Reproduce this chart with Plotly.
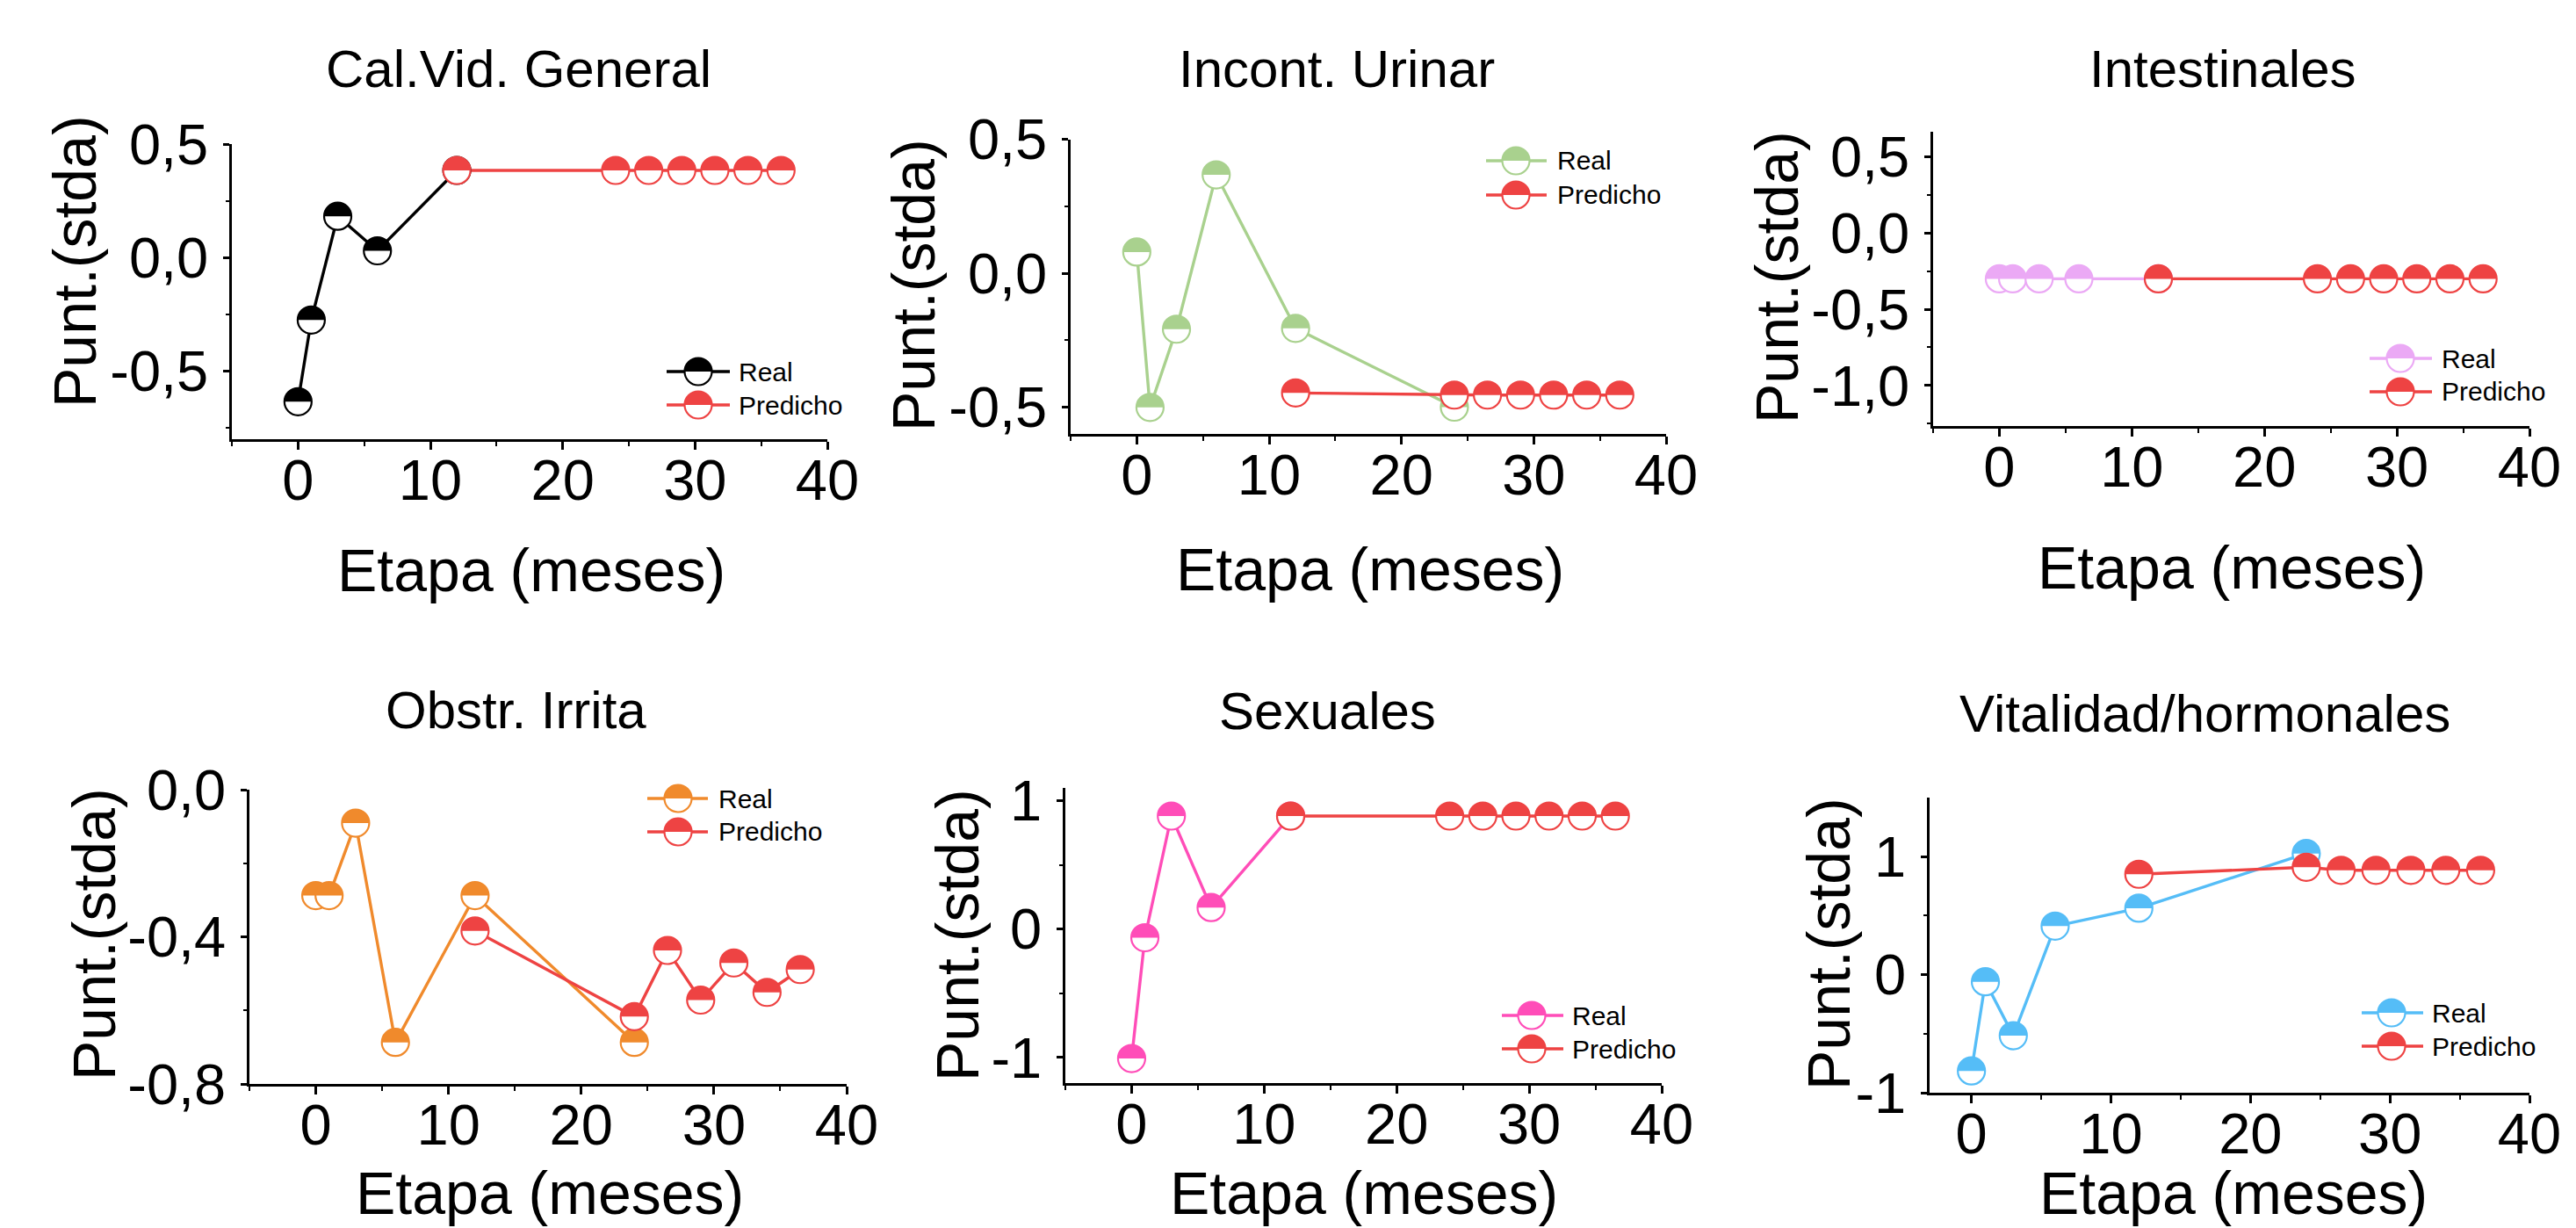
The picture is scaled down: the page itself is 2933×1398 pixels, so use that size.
import plotly.graph_objects as go

W, H = 2933, 1398
FONT = "Liberation Sans, Arial, Helvetica, sans-serif"

# ---------------- data ----------------
titles = ["Cal.Vid. General", "Incont. Urinar", "Intestinales",
          "Obstr. Irrita", "Sexuales", "Vitalidad/hormonales"]
x_title = "Etapa (meses)"
y_title = "Punt.(stda)"
legend_labels = ["Real", "Predicho"]

pred_x = [12, 24, 26.5, 29, 31.5, 34, 36.5]

cal_real_x = [0, 1, 3, 6, 12]
cal_real_y = [-0.635, -0.275, 0.182, 0.030, 0.384]
cal_pred_y = [0.384, 0.384, 0.384, 0.384, 0.384, 0.384, 0.384]

uri_real_x = [0, 1, 3, 6, 12, 24]
uri_real_y = [0.079, -0.501, -0.209, 0.367, -0.206, -0.500]
uri_pred_y = [-0.447, -0.455, -0.455, -0.455, -0.455, -0.455, -0.455]

int_real_x = [0, 1, 3, 6, 12]
int_real_y = [-0.30, -0.30, -0.30, -0.30, -0.30]
int_pred_y = [-0.30, -0.30, -0.30, -0.30, -0.30, -0.30, -0.30]

obs_real_x = [0, 1, 3, 6, 12, 24]
obs_real_y = [-0.288, -0.288, -0.091, -0.687, -0.288, -0.687]
obs_pred_y = [-0.384, -0.617, -0.437, -0.572, -0.471, -0.551, -0.489]

sex_real_x = [0, 1, 3, 6, 12]
sex_real_y = [-1.009, -0.067, 0.881, 0.168, 0.881]
sex_pred_y = [0.881, 0.881, 0.881, 0.881, 0.881, 0.881, 0.881]

vit_real_x = [0, 1, 3, 6, 12, 24]
vit_real_y = [-0.815, -0.060, -0.517, 0.411, 0.563, 1.026]
vit_pred_y = [0.851, 0.910, 0.884, 0.884, 0.884, 0.884, 0.884]

x_tickvals = [0, 10, 20, 30, 40]
x_ticktext = ["0", "10", "20", "30", "40"]

y_tickvals = [
    [-0.5, 0.0, 0.5],
    [-0.5, 0.0, 0.5],
    [-1.0, -0.5, 0.0, 0.5],
    [-0.8, -0.4, 0.0],
    [-1, 0, 1],
    [-1, 0, 1],
]
y_ticktext = [
    ["-0,5", "0,0", "0,5"],
    ["-0,5", "0,0", "0,5"],
    ["-1,0", "-0,5", "0,0", "0,5"],
    ["-0,8", "-0,4", "0,0"],
    ["-1", "0", "1"],
    ["-1", "0", "1"],
]

real_colors = ["#000000", "#A9D18E", "#EBA9F5", "#F08A2C", "#FF4DB8", "#55BDF7"]
pred_color = "#EE4343"

real_x = [cal_real_x, uri_real_x, int_real_x, obs_real_x, sex_real_x, vit_real_x]
real_y = [cal_real_y, uri_real_y, int_real_y, obs_real_y, sex_real_y, vit_real_y]
pred_y = [cal_pred_y, uri_pred_y, int_pred_y, obs_pred_y, sex_pred_y, vit_pred_y]

# ---------------- layout geometry (pixels) ----------------
dom_x = [(264, 942), (1219, 1897), (2201, 2880), (284, 964), (1213, 1892), (2197, 2880)]
dom_y = [(164, 500), (158.5, 494), (149.6, 485), (899, 1234), (897, 1233), (908, 1244)]
x_ranges = [(-5, 40)] * 5 + [(-3, 40)]
y_ranges = [(-0.8, 0.5), (-0.6, 0.5), (-1.266, 0.667), (-0.8, 0.0), (-1.2, 1.1), (-1.0, 1.5)]
y_minor = [[-0.75, -0.25, 0.25], [-0.25, 0.25], [-1.25, -0.75, -0.25, 0.25],
           [-0.6, -0.2], [-0.5, 0.5], [-0.5, 0.5]]
x_minor = [-5, 5, 15, 25, 35]

title_pos = [(590, 78), (1522, 79), (2531, 79), (587, 808), (1511, 809), (2510, 812)]
xtitle_pos = [(605, 649), (1560, 648), (2541, 646), (626, 1358), (1553, 1358), (2543, 1358)]
ytitle_pos = [(85, 298), (1040, 325), (2023, 316), (107, 1064), (1090, 1065), (2082, 1075)]
# line x0, line x1, marker x, text x, row y real, row y pred
legend_pos = [(759, 831, 795, 839, 423, 461), (1692, 1761, 1726, 1771, 183, 222),
              (2698, 2769, 2733, 2778, 408, 446), (737, 806, 772, 816, 909, 947),
              (1710, 1780, 1744, 1788, 1156, 1194), (2689, 2759, 2723, 2767, 1153, 1191)]

R = 15.5      # marker radius (px)
OUT_W = 2.2   # marker outline
LINE_W = 3.4
K = 0.5523 * R
HALF_PATH = (f"M{-R},0 C{-R},{K} {-K},{R} 0,{R} "
             f"C{K},{R} {R},{K} {R},0 Z")


def px(v):
    return v / W


def py(v):
    return 1 - v / H


def marker_shapes(xref, yref, xa, ya, color):
    common = dict(xref=xref, yref=yref, xsizemode="pixel", ysizemode="pixel",
                  xanchor=xa, yanchor=ya)
    return [
        dict(type="circle", x0=-R, x1=R, y0=-R, y1=R, fillcolor="white",
             line=dict(color=color, width=OUT_W), **common),
        dict(type="path", path=HALF_PATH, fillcolor=color,
             line=dict(width=0), **common),
    ]


fig = go.Figure()
shapes = []
annotations = []
layout_axes = {}

tick_font = dict(family=FONT, size=65, color="black")

for i in range(6):
    n = "" if i == 0 else str(i + 1)
    xref, yref = "x" + n, "y" + n
    fig.add_trace(go.Scatter(x=real_x[i], y=real_y[i], mode="lines",
                             line=dict(color=real_colors[i], width=LINE_W),
                             xaxis=xref, yaxis=yref, hoverinfo="skip", showlegend=False))
    fig.add_trace(go.Scatter(x=pred_x, y=pred_y[i], mode="lines",
                             line=dict(color=pred_color, width=LINE_W),
                             xaxis=xref, yaxis=yref, hoverinfo="skip", showlegend=False))
    for xv, yv in zip(real_x[i], real_y[i]):
        shapes += marker_shapes(xref, yref, xv, yv, real_colors[i])
    for xv, yv in zip(pred_x, pred_y[i]):
        shapes += marker_shapes(xref, yref, xv, yv, pred_color)

    layout_axes["xaxis" + n] = dict(
        domain=[px(dom_x[i][0]), px(dom_x[i][1])], range=list(x_ranges[i]),
        anchor=yref, tickmode="array", tickvals=x_tickvals, ticktext=x_ticktext,
        showline=True, linecolor="black", linewidth=2.5, automargin=False,
        ticks="outside", tickcolor="black", tickwidth=2.5, ticklen=9,
        ticklabelstandoff=-21,
        showgrid=False, zeroline=False, tickfont=tick_font,
        minor=dict(tickmode="array", tickvals=x_minor, ticks="outside",
                   ticklen=5, tickwidth=2, tickcolor="black"))
    layout_axes["yaxis" + n] = dict(
        domain=[py(dom_y[i][1]), py(dom_y[i][0])], range=list(y_ranges[i]),
        anchor=xref, tickmode="array", tickvals=y_tickvals[i], ticktext=y_ticktext[i],
        showline=True, linecolor="black", linewidth=2.5, automargin=False,
        ticks="outside", tickcolor="black", tickwidth=2.5, ticklen=7,
        ticklabelstandoff=4,
        showgrid=False, zeroline=False, tickfont=tick_font,
        minor=dict(tickmode="array", tickvals=y_minor[i], ticks="outside",
                   ticklen=4, tickwidth=2, tickcolor="black"))

    annotations.append(dict(text=titles[i], x=px(title_pos[i][0]), y=py(title_pos[i][1]),
                            xref="paper", yref="paper", showarrow=False,
                            xanchor="center", yanchor="middle",
                            font=dict(family=FONT, size=60, color="black")))
    annotations.append(dict(text=x_title, x=px(xtitle_pos[i][0]), y=py(xtitle_pos[i][1]),
                            xref="paper", yref="paper", showarrow=False,
                            xanchor="center", yanchor="middle",
                            font=dict(family=FONT, size=68, color="black")))
    annotations.append(dict(text=y_title, x=px(ytitle_pos[i][0]), y=py(ytitle_pos[i][1]),
                            xref="paper", yref="paper", showarrow=False, textangle=-90,
                            xanchor="center", yanchor="middle",
                            font=dict(family=FONT, size=68, color="black")))

    lx0, lx1, mx, tx, yr_, yp_ = legend_pos[i]
    for label, color, ly in ((legend_labels[0], real_colors[i], yr_),
                             (legend_labels[1], pred_color, yp_)):
        shapes.append(dict(type="line", xref="paper", yref="paper",
                           x0=px(lx0), x1=px(lx1), y0=py(ly), y1=py(ly),
                           line=dict(color=color, width=LINE_W)))
        shapes += marker_shapes("paper", "paper", px(mx), py(ly), color)
        annotations.append(dict(text=label, x=px(tx), y=py(ly), xref="paper", yref="paper",
                                showarrow=False, xanchor="left", yanchor="middle",
                                font=dict(family=FONT, size=30, color="black")))

fig.update_layout(
    template="none",
    width=W, height=H, autosize=False,
    margin=dict(l=0, r=0, t=0, b=0, pad=0, autoexpand=False),
    paper_bgcolor="white", plot_bgcolor="white", showlegend=False,
    font=dict(family=FONT, color="black"),
    shapes=shapes, annotations=annotations, **layout_axes)

fig.write_html("out.html", config={"displayModeBar": False},
               post_script="document.body.style.margin='0px';document.body.style.overflow='hidden';")
